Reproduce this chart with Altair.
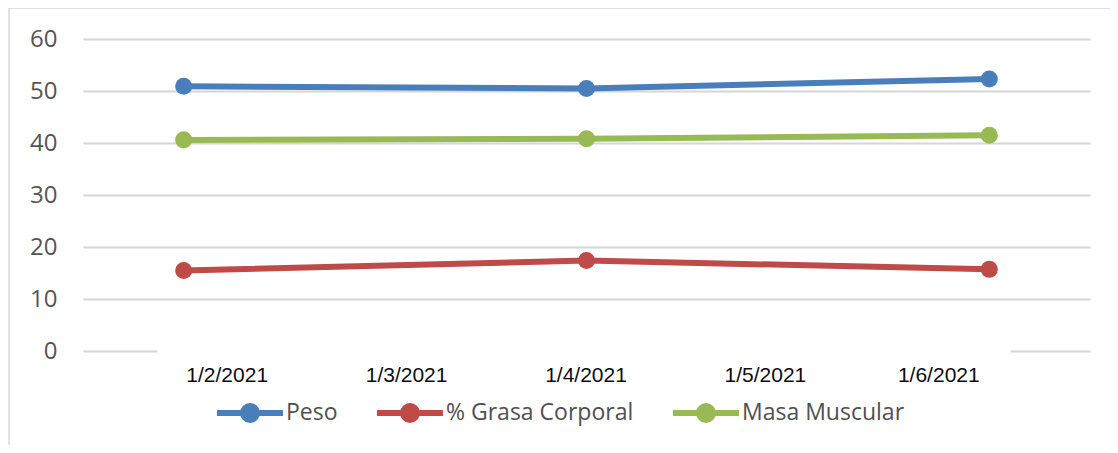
import altair as alt
import pandas as pd

# ---- data ----
dates = ["1/2/2021", "1/3/2021", "1/4/2021", "1/5/2021", "1/6/2021"]
measured_dates = ["1/2/2021", "1/4/2021", "1/6/2021"]
series = ["Peso", "% Grasa Corporal", "Masa Muscular"]
peso = [50.9, 50.5, 52.3]
grasa = [15.5, 17.4, 15.7]
masa = [40.6, 40.8, 41.5]
y_ticks = [0, 10, 20, 30, 40, 50, 60]

colors = ["#4A7EBB", "#BE4B48", "#98B954"]

rows = []
for name, vals in zip(series, [peso, grasa, masa]):
    for d, v in zip(measured_dates, vals):
        rows.append({"Fecha": d, "Serie": name, "Valor": v})
df = pd.DataFrame(rows)

legend_symbol = (
    "M-1,0H1"
    "M0.212,0A0.212,0.212,0,1,1,-0.212,0A0.212,0.212,0,1,1,0.212,0"
    "M0.106,0A0.106,0.106,0,1,1,-0.106,0A0.106,0.106,0,1,1,0.106,0"
)

x_label_offset = {
    "condition": [
        {"test": "datum.value === '1/2/2021'", "value": 43},
        {"test": "datum.value === '1/3/2021'", "value": 21},
        {"test": "datum.value === '1/5/2021'", "value": -23},
        {"test": "datum.value === '1/6/2021'", "value": -51},
    ],
    "value": -1,
}

zero_dash = {
    "condition": {"test": "datum.value === 0", "value": [74, 853, 80, 200]},
    "value": [],
}

base = alt.Chart(df).encode(
    x=alt.X(
        "Fecha:N",
        sort=dates,
        scale=alt.Scale(type="point", domain=dates, padding=0.5),
        axis=alt.Axis(
            title=None,
            domain=False,
            ticks=False,
            grid=False,
            labelAngle=0,
            labelFont="Liberation Sans",
            labelFontSize=21,
            labelColor="#0d0d0d",
            labelPadding=13,
            labelBaseline="top",
            labelOffset=x_label_offset,
        ),
    ),
    y=alt.Y(
        "Valor:Q",
        scale=alt.Scale(domain=[0, 60], nice=False, zero=True),
        axis=alt.Axis(
            title=None,
            values=y_ticks,
            domain=False,
            ticks=False,
            labelFont="Open Sans",
            labelFontSize=24,
            labelColor="#555555",
            labelPadding=26,
            gridColor="#d6d6d6",
            gridWidth=2,
            gridDash=zero_dash,
        ),
    ),
    color=alt.Color(
        "Serie:N",
        scale=alt.Scale(domain=series, range=colors),
        legend=alt.Legend(
            title=None,
            orient="none",
            legendX=131,
            legendY=338,
            direction="horizontal",
            symbolType=legend_symbol,
            symbolSize=4356,
            symbolStrokeWidth=6,
            symbolOpacity=1,
            labelFont="Open Sans",
            labelFontSize=23,
            labelColor="#505050",
            labelOffset=0,
            labelLimit=0,
            columnPadding=27,
        ),
    ),
)

lines = base.mark_line(strokeWidth=6)
points = base.mark_point(filled=True, size=290, opacity=1)

frame = alt.Chart(alt.Data(values=[{}])).mark_rect(
    fill="transparent", stroke="#d9d9d9", strokeWidth=1.5
).encode(
    x=alt.value(-74),
    x2=alt.value(1060),
    y=alt.value(-31),
    y2=alt.value(440),
)

chart = (
    alt.layer(frame, lines, points)
    .properties(
        width=1007,
        height=312,
        autosize=alt.AutoSizeParams(type="none"),
        padding={"left": 75, "top": 31, "right": 20, "bottom": 94},
        background="white",
    )
    .configure_view(stroke=None)
)

chart.save("out.html", embed_options={"renderer": "svg", "actions": False})
